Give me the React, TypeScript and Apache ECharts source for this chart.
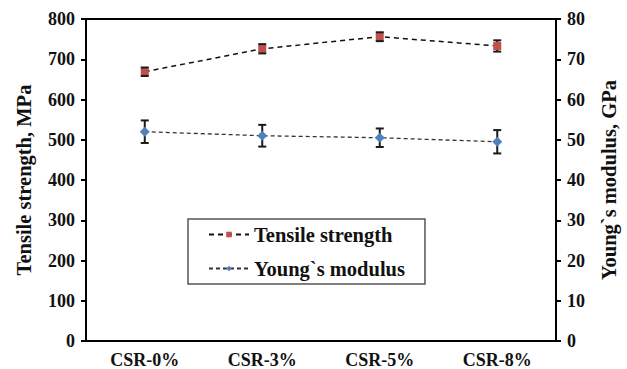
import React, { useEffect, useRef } from "react";
import * as echarts from "echarts";

const categories = ["CSR-0%", "CSR-3%", "CSR-5%", "CSR-8%"];
const tensile = [669, 726, 756, 733];
const tensileErr = [10.5, 11.5, 11, 14];
const modulus = [52.0, 51.0, 50.5, 49.5];
const modulusErr = [2.8, 2.7, 2.3, 2.9];
const leftTicks = { min: 0, max: 800, interval: 100 };
const rightTicks = { min: 0, max: 80, interval: 10 };

const FONT = "'Liberation Serif', 'Times New Roman', serif";

function errorSeries(values: number[], errs: number[], yAxisIndex: number, part: "stem" | "caps", z: number) {
  return {
    type: "custom",
    yAxisIndex,
    z,
    silent: true,
    data: values.map((v, i) => [i, v - errs[i], v + errs[i]]),
    encode: { x: 0, y: [1, 2] },
    renderItem: (params: any, api: any) => {
      const x = api.value(0);
      const lo = api.coord([x, api.value(1)]);
      const hi = api.coord([x, api.value(2)]);
      const hw = 4;
      const style = { stroke: "#1a1a1a", lineWidth: 2 };
      const children =
        part === "stem"
          ? [{ type: "line", shape: { x1: lo[0], y1: lo[1], x2: hi[0], y2: hi[1] }, style }]
          : [
              { type: "line", shape: { x1: lo[0] - hw, y1: lo[1], x2: lo[0] + hw, y2: lo[1] }, style },
              { type: "line", shape: { x1: hi[0] - hw, y1: hi[1], x2: hi[0] + hw, y2: hi[1] }, style },
            ];
      return { type: "group", children };
    },
  };
}

export default function App() {
  const ref = useRef<HTMLDivElement>(null);
  useEffect(() => {
    if (!ref.current) return;
    const chart = echarts.init(ref.current, null, { renderer: "svg" });
    const labelStyle = { fontFamily: FONT, fontWeight: "bold", fontSize: 18, color: "#111" };
    chart.setOption({
      animation: false,
      backgroundColor: "#fff",
      grid: {
        left: 86,
        right: 64,
        top: 19,
        bottom: 26,
        show: true,
        borderColor: "#000",
        borderWidth: 2,
        backgroundColor: "transparent",
      },
      legend: {
        left: 188,
        top: 219,
        orient: "vertical",
        padding: [5, 20, 5, 20],
        itemGap: 13,
        itemWidth: 40,
        itemHeight: 7,
        borderColor: "#555",
        borderWidth: 1.5,
        backgroundColor: "#fff",
        textStyle: { fontFamily: FONT, fontWeight: "bold", fontSize: 20.5, color: "#111" },
        data: ["Tensile strength", "Young`s modulus"],
      },
      xAxis: [
        {
          type: "category",
          data: categories,
          boundaryGap: true,
          axisLine: { lineStyle: { color: "#000", width: 2 } },
          axisTick: { alignWithLabel: true, length: 4, lineStyle: { color: "#000", width: 2 } },
          axisLabel: { ...labelStyle, margin: 10 },
          splitLine: { show: false },
        },
        {
          type: "category",
          data: categories,
          position: "bottom",
          boundaryGap: true,
          axisLine: { show: false },
          axisTick: { inside: true, alignWithLabel: true, length: 4, lineStyle: { color: "#000", width: 2 } },
          axisLabel: { show: false },
          splitLine: { show: false },
        },
      ],
      yAxis: [
        {
          type: "value",
          ...leftTicks,
          name: "Tensile strength, MPa",
          nameLocation: "middle",
          nameRotate: 90,
          nameGap: 52,
          nameTextStyle: { fontFamily: FONT, fontWeight: "bold", fontSize: 20.5, color: "#111" },
          axisLine: { show: true, lineStyle: { color: "#000", width: 2 } },
          axisTick: { show: true, length: 5, lineStyle: { color: "#000", width: 2 } },
          axisLabel: { ...labelStyle, margin: 11 },
          splitLine: { show: false },
        },
        {
          type: "value",
          ...rightTicks,
          position: "right",
          name: "Young`s modulus, GPa",
          nameLocation: "middle",
          nameRotate: 90,
          nameGap: 42,
          nameTextStyle: { fontFamily: FONT, fontWeight: "bold", fontSize: 20.5, color: "#111" },
          axisLine: { show: true, lineStyle: { color: "#000", width: 2 } },
          axisTick: { show: true, length: 5, lineStyle: { color: "#000", width: 2 } },
          axisLabel: { ...labelStyle, margin: 11 },
          splitLine: { show: false },
        },
      ],
      series: [
        errorSeries(tensile, tensileErr, 0, "stem", 2),
        errorSeries(tensile, tensileErr, 0, "caps", 4),
        errorSeries(modulus, modulusErr, 1, "stem", 2),
        errorSeries(modulus, modulusErr, 1, "caps", 4),
        {
          name: "Tensile strength",
          type: "line",
          yAxisIndex: 0,
          z: 3,
          data: tensile,
          symbol: "rect",
          symbolSize: 8,
          itemStyle: { color: "#C0504D" },
          lineStyle: { color: "#111", width: 1.5, type: [5, 4] },
        },
        {
          name: "Young`s modulus",
          type: "line",
          yAxisIndex: 1,
          z: 3,
          data: modulus,
          symbol: "diamond",
          symbolSize: 10,
          itemStyle: { color: "#4F81BD" },
          lineStyle: { color: "#333", width: 1.3, type: [4, 3] },
        },
      ],
    });
    return () => chart.dispose();
  }, []);
  return <div ref={ref} style={{ width: 627, height: 369, position: "absolute", left: 0, top: 0 }} />;
}
